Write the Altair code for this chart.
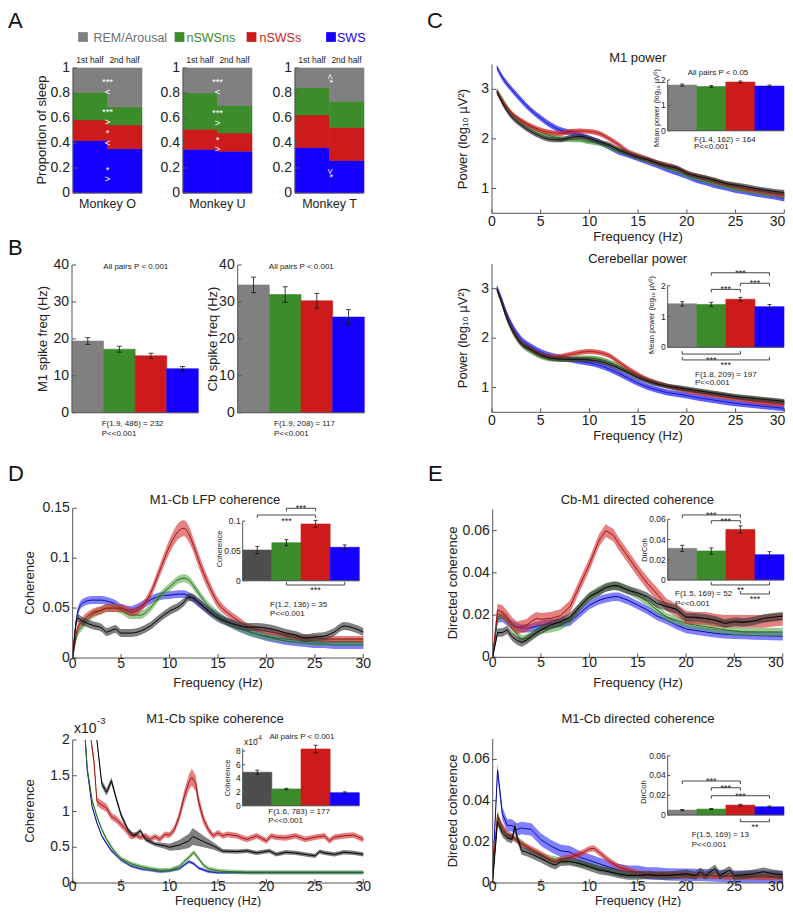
import altair as alt
import pandas as pd

OX, OY = 8, 8
FN = "Liberation Sans, Arial, sans-serif"
FW = "Liberation Sans, Arial, sans-serif"
INK = "#222222"
AXC = "#555555"
TICK_FS = 14
TITLE_FS = 13
AXT_FS = 13
SMALL_FS = 8

STATES = ["REM/Arousal", "nSWSns", "nSWSs", "SWS"]
BAR_COLORS = ["#808080", "#3C8C2C", "#CD1B1B", "#1500FF"]
BAR_COLORS_DARK = ["#4D4D4D", "#3C8C2C", "#CD1B1B", "#1500FF"]
LEGEND_TEXT_COLORS = ["#6E6E6E", "#3C8C2C", "#CD1B1B", "#1500FF"]
BAND = {"blue": "#2A2AFF", "green": "#4A9E3A", "red": "#D42C2C", "black": "#3A3A3A"}
LINE = {"blue": "#0A0A9A", "green": "#276A1A", "red": "#A01212", "black": "#000000"}

# ---------------- Panel A data (proportions: REM, nSWSns, nSWSs, SWS) ----------------
A_MONKEYS = ["Monkey O", "Monkey U", "Monkey T"]
A_FIRST = {"Monkey O": [0.195, 0.22, 0.165, 0.42],
           "Monkey U": [0.20, 0.29, 0.16, 0.35],
           "Monkey T": [0.155, 0.22, 0.26, 0.365]}
A_SECOND = {"Monkey O": [0.31, 0.145, 0.19, 0.355],
            "Monkey U": [0.30, 0.22, 0.145, 0.335],
            "Monkey T": [0.265, 0.21, 0.265, 0.26]}
A_ANN_TEXT = {"Monkey O": ["***\n<", "***\n>", "*\n<", "*\n>"],
              "Monkey U": ["***\n<", "***\n>", "*\n>"],
              "Monkey T": ["<*", ">*"]}
A_ANN_Y = {"Monkey O": [0.887, 0.648, 0.48, 0.186],
           "Monkey U": [0.887, 0.64, 0.425],
           "Monkey T": [0.915, 0.16]}
A_TICKS = [0, 0.2, 0.4, 0.6, 0.8, 1]
A_TICK_LABELS = ["0", "0.2", "0.4", "0.6", "0.8", "1"]

# ---------------- Panel B ----------------
B_M1 = [19.4, 17.2, 15.4, 11.9]
B_M1_ERR = [0.9, 0.8, 0.7, 0.6]
B_CB = [34.6, 32.0, 30.3, 25.9]
B_CB_ERR = [2.1, 2.1, 2.0, 2.0]
B_TICKS = [0, 10, 20, 30, 40]

# ---------------- Panel C ----------------
C_F = [0.5, 1, 1.5, 2, 3, 4, 5, 6, 7, 8, 9, 10, 11, 12, 13, 14, 15, 16, 17, 18, 19, 20,
       21, 22, 23, 24, 25, 26, 27, 28, 29, 30]
CT_BLUE = [3.45, 3.26, 3.12, 3.0, 2.78, 2.58, 2.42, 2.28, 2.18, 2.13, 2.08, 2.01, 1.94, 1.84, 1.74,
           1.68, 1.61, 1.54, 1.47, 1.39, 1.32, 1.25, 1.17, 1.12, 1.06, 1.02, 0.97, 0.94, 0.9, 0.87, 0.84, 0.8]
CT_GREEN = [2.98, 2.82, 2.66, 2.52, 2.35, 2.23, 2.13, 2.06, 2.01, 1.99, 1.98, 1.94, 1.91, 1.84, 1.76,
            1.7, 1.63, 1.56, 1.49, 1.43, 1.36, 1.27, 1.21, 1.15, 1.1, 1.05, 1.0, 0.97, 0.94, 0.9, 0.88, 0.85]
CT_RED = [2.95, 2.78, 2.64, 2.52, 2.37, 2.26, 2.18, 2.13, 2.11, 2.15, 2.16, 2.15, 2.11, 2.01, 1.88,
          1.74, 1.66, 1.59, 1.52, 1.47, 1.41, 1.32, 1.25, 1.2, 1.14, 1.09, 1.05, 1.0, 0.97, 0.94, 0.9, 0.87]
CT_BLACK = [2.95, 2.75, 2.58, 2.45, 2.28, 2.15, 2.05, 1.99, 1.98, 2.03, 2.05, 2.01, 1.94, 1.88, 1.78,
            1.7, 1.63, 1.58, 1.51, 1.45, 1.41, 1.31, 1.25, 1.21, 1.16, 1.1, 1.07, 1.04, 1.0, 0.97, 0.94, 0.92]
CB_BLUE = [3.02, 2.78, 2.5, 2.28, 1.98, 1.83, 1.72, 1.65, 1.6, 1.57, 1.53, 1.5, 1.45, 1.38, 1.29,
           1.19, 1.09, 1.01, 0.95, 0.9, 0.87, 0.84, 0.8, 0.77, 0.74, 0.71, 0.68, 0.66, 0.64, 0.62, 0.6, 0.58]
CB_GREEN = [2.98, 2.7, 2.4, 2.17, 1.87, 1.73, 1.63, 1.58, 1.57, 1.58, 1.6, 1.6, 1.58, 1.52, 1.43,
            1.33, 1.23, 1.15, 1.08, 1.03, 0.99, 0.95, 0.92, 0.89, 0.86, 0.83, 0.8, 0.78, 0.76, 0.74, 0.72, 0.7]
CB_RED = [3.0, 2.72, 2.43, 2.2, 1.9, 1.77, 1.67, 1.62, 1.63, 1.67, 1.71, 1.73, 1.71, 1.65, 1.52,
          1.38, 1.26, 1.16, 1.09, 1.03, 0.98, 0.94, 0.9, 0.87, 0.84, 0.81, 0.78, 0.75, 0.72, 0.7, 0.68, 0.66]
CB_BLACK = [3.0, 2.72, 2.42, 2.2, 1.9, 1.77, 1.66, 1.6, 1.58, 1.57, 1.57, 1.56, 1.53, 1.47, 1.39,
            1.3, 1.2, 1.13, 1.07, 1.03, 1.0, 0.97, 0.94, 0.91, 0.88, 0.85, 0.82, 0.8, 0.78, 0.76, 0.74, 0.72]
CT_INSET = [1.80, 1.74, 1.92, 1.76]
CT_INSET_ERR = [0.04, 0.04, 0.04, 0.04]
CB_INSET = [1.41, 1.39, 1.56, 1.32]
CB_INSET_ERR = [0.07, 0.07, 0.06, 0.07]
CB_BRACKETS = [(1, 3, 2.42, "***", "down", "above"), (1, 2, 1.88, "***", "down", "above"),
               (2, 3, 2.08, "***", "down", "above"), (0, 2, -0.22, "***", "up", "below"),
               (0, 3, -0.41, "***", "up", "below")]

# ---------------- Panel D ----------------
DT_F = [0, 0.5, 1, 2, 3, 3.5, 4.4, 5, 6, 7, 8, 9, 10, 11, 11.5, 12, 12.5, 13, 14, 15, 16, 17, 18,
        19, 20, 21, 22, 23, 24, 25, 26, 27, 28, 29, 30]
DT_RED = [0, 0.03, 0.037, 0.045, 0.048, 0.05, 0.05, 0.05, 0.046, 0.05, 0.064, 0.088, 0.112, 0.128, 0.13,
          0.124, 0.112, 0.098, 0.074, 0.055, 0.045, 0.038, 0.032, 0.029, 0.027, 0.025, 0.023, 0.021,
          0.02, 0.02, 0.019, 0.019, 0.019, 0.019, 0.019]
DT_RED_ERR = [0.002, 0.004, 0.004, 0.004, 0.004, 0.004, 0.004, 0.004, 0.004, 0.004, 0.005, 0.006, 0.007,
              0.008, 0.008, 0.008, 0.007, 0.007, 0.006, 0.005, 0.004, 0.004, 0.003, 0.003, 0.003, 0.003,
              0.003, 0.003, 0.003, 0.003, 0.003, 0.003, 0.003, 0.003, 0.003]
DT_GREEN = [0, 0.025, 0.032, 0.043, 0.048, 0.05, 0.05, 0.048, 0.043, 0.043, 0.05, 0.062, 0.071, 0.079, 0.08,
            0.078, 0.072, 0.065, 0.052, 0.043, 0.036, 0.031, 0.027, 0.024, 0.022, 0.02, 0.019, 0.018,
            0.017, 0.016, 0.016, 0.016, 0.016, 0.016, 0.016]
DT_BLUE = [0, 0.045, 0.055, 0.058, 0.058, 0.057, 0.054, 0.05, 0.048, 0.052, 0.058, 0.062, 0.063, 0.064, 0.064,
           0.062, 0.059, 0.055, 0.048, 0.042, 0.036, 0.031, 0.027, 0.024, 0.021, 0.019, 0.017, 0.016,
           0.015, 0.014, 0.014, 0.013, 0.013, 0.013, 0.013]
DT_BLACK = [0, 0.04, 0.037, 0.033, 0.03, 0.026, 0.029, 0.025, 0.025, 0.027, 0.032, 0.04, 0.047, 0.052, 0.056,
            0.061, 0.06, 0.056, 0.047, 0.04, 0.036, 0.033, 0.031, 0.031, 0.03, 0.028, 0.025, 0.023,
            0.02, 0.021, 0.022, 0.026, 0.032, 0.03, 0.026]
DT_INSET = [0.0514, 0.0637, 0.095, 0.0559]
DT_INSET_ERR = [0.006, 0.005, 0.006, 0.004]
DT_BRACKETS = [(1, 2, 0.1213, "***", "down", "above"), (0, 2, 0.110, "***", "down", "below"),
               (1, 3, -0.0072, "***", "up", "below")]

# spike coherence (x 1e-3)
DB_RED_F = [1.9, 2.2, 2.5, 3, 3.5, 4, 4.5, 5, 5.5, 6, 6.5, 7, 7.5, 8, 8.5, 9, 9.5, 10, 10.5, 11,
            11.5, 12, 12.3, 12.7, 13, 13.5, 14, 14.5, 15, 15.5, 16, 17, 17.5, 18, 19, 20, 20.5, 21, 22, 23,
            24, 25, 26, 26.5, 27, 28, 29, 30]
DB_RED = [2.0, 1.7, 1.14, 1.09, 1.05, 0.93, 0.89, 0.82, 0.75, 0.66, 0.67, 0.64, 0.66, 0.61, 0.65, 0.61,
          0.68, 0.67, 0.75, 0.93, 1.2, 1.41, 1.48, 1.39, 1.14, 0.89, 0.75, 0.66, 0.7, 0.66, 0.68, 0.66,
          0.63, 0.61, 0.66, 0.59, 0.66, 0.64, 0.63, 0.66, 0.61, 0.64, 0.66, 0.59, 0.64, 0.66, 0.67, 0.61]
DB_RED_ERR = [0.08, 0.08, 0.06, 0.06, 0.06, 0.05, 0.05, 0.05, 0.05, 0.05, 0.04, 0.04, 0.04, 0.04, 0.04,
              0.04, 0.04, 0.04, 0.05, 0.07, 0.09, 0.11, 0.12, 0.11, 0.09, 0.07, 0.05, 0.04, 0.04, 0.04,
              0.04, 0.04, 0.04, 0.04, 0.04, 0.04, 0.04, 0.04, 0.04, 0.04, 0.04, 0.04, 0.04, 0.04, 0.04,
              0.04, 0.04, 0.04]
DB_BLACK_F = [2.5, 3, 3.5, 4, 4.5, 5, 5.7, 6.3, 7, 7.5, 8.5, 9.5, 10, 11, 12, 12.4, 13.5, 14.5, 15.5, 17,
              18, 19, 20.3, 21, 22, 23, 24, 25, 25.5, 26, 27, 28, 29, 30]
DB_BLACK = [2.0, 1.39, 1.27, 1.43, 1.18, 0.95, 0.75, 0.66, 0.73, 0.61, 0.545, 0.52, 0.5, 0.53, 0.59, 0.65,
            0.58, 0.52, 0.445, 0.44, 0.45, 0.42, 0.45, 0.4, 0.43, 0.42, 0.4, 0.38, 0.44, 0.42, 0.4, 0.43,
            0.42, 0.4]
DB_BLACK_ERR = [0.05, 0.05, 0.05, 0.05, 0.04, 0.04, 0.03, 0.03, 0.03, 0.03, 0.03, 0.04, 0.05, 0.07, 0.1,
                0.12, 0.08, 0.05, 0.03, 0.03, 0.03, 0.03, 0.03, 0.03, 0.03, 0.03, 0.03, 0.03, 0.03, 0.03,
                0.03, 0.03, 0.03, 0.03]
DB_GREEN_F = [1.3, 1.5, 2, 2.5, 3, 3.5, 4, 4.5, 5, 6, 7, 8, 9, 10, 11, 11.5, 12, 12.5, 13, 13.5, 14, 15,
              16, 18, 20, 22, 24, 26, 28, 30]
DB_GREEN = [2.0, 1.6, 1.16, 0.93, 0.75, 0.61, 0.5, 0.41, 0.34, 0.27, 0.23, 0.2, 0.18, 0.18, 0.23, 0.3,
            0.36, 0.43, 0.34, 0.25, 0.2, 0.17, 0.16, 0.15, 0.15, 0.15, 0.15, 0.15, 0.15, 0.15]
DB_BLUE_F = [1.3, 1.5, 2, 2.5, 3, 3.5, 4, 5, 6, 7, 8, 9, 10, 11, 11.5, 12, 12.5, 13, 14, 15, 16, 18, 20,
             22, 24, 26, 28, 30]
DB_BLUE = [2.0, 1.58, 1.07, 0.84, 0.66, 0.55, 0.45, 0.32, 0.24, 0.2, 0.18, 0.16, 0.17, 0.2, 0.25, 0.3,
           0.27, 0.21, 0.16, 0.145, 0.145, 0.145, 0.145, 0.145, 0.145, 0.145, 0.145, 0.145]
DB_INSET = [4.9, 2.45, 8.3, 1.9]
DB_INSET_ERR = [0.3, 0.1, 0.55, 0.12]

# ---------------- Panel E ----------------
ET_F = [0, 0.5, 1, 1.5, 2, 2.5, 3, 3.5, 4, 4.5, 5, 6, 7, 8, 9, 10, 11, 11.7, 12.5, 13, 14, 15, 16, 17,
        18, 19, 20, 21, 22, 23, 24, 25, 26, 27, 28, 29, 30]
ET_RED = [0, 0.0224, 0.0216, 0.019, 0.016, 0.014, 0.0145, 0.015, 0.017, 0.0184, 0.018, 0.0184, 0.0197,
          0.024, 0.034, 0.044, 0.0554, 0.06, 0.0578, 0.054, 0.0476, 0.041, 0.035, 0.03, 0.0247, 0.0224,
          0.019, 0.0185, 0.0184, 0.0176, 0.017, 0.0172, 0.017, 0.017, 0.017, 0.0176, 0.018]
ET_BLACK = [0, 0.0117, 0.0117, 0.013, 0.0098, 0.008, 0.007, 0.0082, 0.0098, 0.0115, 0.013, 0.0153, 0.0168,
            0.019, 0.024, 0.0287, 0.031, 0.033, 0.034, 0.0338, 0.0318, 0.0305, 0.0287, 0.0255, 0.024,
            0.0228, 0.019, 0.019, 0.0184, 0.0176, 0.016, 0.0168, 0.0165, 0.0172, 0.0184, 0.019, 0.0195]
ET_GREEN = [0, 0.019, 0.02, 0.018, 0.0137, 0.011, 0.0085, 0.009, 0.0105, 0.012, 0.013, 0.0137, 0.0148,
            0.0176, 0.024, 0.0287, 0.0318, 0.0332, 0.0337, 0.0335, 0.032, 0.0294, 0.0263, 0.0224, 0.019,
            0.0176, 0.016, 0.0152, 0.0145, 0.0138, 0.013, 0.0125, 0.012, 0.012, 0.012, 0.012, 0.012]
ET_BLUE = [0, 0.0184, 0.0187, 0.017, 0.0153, 0.0143, 0.0137, 0.0138, 0.014, 0.0147, 0.0153, 0.016, 0.0163,
           0.0168, 0.0208, 0.0247, 0.027, 0.028, 0.0287, 0.0287, 0.027, 0.0247, 0.0224, 0.0195, 0.0176,
           0.0153, 0.0134, 0.0127, 0.012, 0.0114, 0.0109, 0.0107, 0.0105, 0.0103, 0.0102, 0.0101, 0.01]
ET_INSET = [0.0313, 0.0287, 0.050, 0.025]
ET_INSET_ERR = [0.003, 0.003, 0.0035, 0.003]
ET_BRACKETS = [(0, 2, 0.0643, "***", "down", "above"), (1, 2, 0.0586, "***", "down", "above"),
               (1, 3, -0.0049, "**", "up", "below"), (2, 3, -0.0138, "***", "up", "below")]

EB_BLUE_F = [0, 0.5, 1, 1.5, 2, 2.5, 3, 4, 5, 6, 7, 8, 9, 10, 11, 12, 13, 14, 15, 16, 17, 18, 20, 22, 25,
             28, 30]
EB_BLUE = [0.005, 0.0549, 0.0337, 0.028, 0.028, 0.026, 0.0267, 0.026, 0.021, 0.018, 0.0157, 0.015, 0.0125,
           0.011, 0.0094, 0.0078, 0.0063, 0.0055, 0.0055, 0.0047, 0.0047, 0.0042, 0.004, 0.0038, 0.0031,
           0.0031, 0.0027]
EB_RED_F = [0, 0.5, 1, 1.5, 2, 3, 4, 5, 6, 6.5, 7, 8, 9, 10, 10.5, 11, 12, 13, 14, 15, 16, 18, 20, 22, 25, 30]
EB_RED = [0.0055, 0.032, 0.0275, 0.024, 0.0227, 0.0188, 0.0165, 0.014, 0.011, 0.0102, 0.0115, 0.0125,
          0.014, 0.0165, 0.0168, 0.0149, 0.011, 0.0078, 0.0063, 0.0047, 0.004, 0.0042, 0.0036, 0.0036,
          0.0031, 0.0028]
EB_GREEN_F = [0, 0.5, 1, 1.5, 2, 3, 4, 5, 6, 7, 8, 9, 10, 11, 12, 13, 14, 15, 20, 30]
EB_GREEN = [0.002, 0.0337, 0.026, 0.0227, 0.022, 0.0196, 0.0157, 0.0133, 0.0118, 0.011, 0.0105, 0.0094,
            0.0086, 0.0071, 0.0058, 0.0047, 0.0042, 0.004, 0.0036, 0.0031]
EB_BLACK_F = [0, 0.5, 1, 1.5, 2, 2.3, 2.5, 3, 3.5, 4, 5, 6, 6.5, 7, 8, 9, 10, 11, 12, 13, 14, 15, 16, 17,
              18, 19, 20, 21, 21.5, 22, 23, 23.5, 24.5, 25, 26, 27, 28, 29, 30]
EB_BLACK = [0.0008, 0.0298, 0.0243, 0.022, 0.0212, 0.0275, 0.0227, 0.0157, 0.015, 0.014, 0.0118, 0.0094,
            0.0086, 0.0102, 0.0105, 0.0094, 0.0078, 0.0063, 0.0055, 0.0044, 0.0036, 0.0036, 0.004, 0.0036,
            0.0036, 0.004, 0.0045, 0.0036, 0.0055, 0.0036, 0.007, 0.0036, 0.0063, 0.0036, 0.004, 0.0045,
            0.0055, 0.0045, 0.004]
EB_INSET = [0.005, 0.006, 0.010, 0.0083]
EB_INSET_ERR = [0.0006, 0.0006, 0.0008, 0.0008]
EB_BRACKETS = [(0, 2, 0.0344, "***", "down", "above"), (1, 2, 0.0276, "***", "down", "above"),
               (1, 3, 0.0195, "***", "down", "above"), (2, 3, -0.0068, "**", "up", "below")]

FREQ_TICKS = [0, 5, 10, 15, 20, 25, 30]

layers = []


def add(c):
    layers.append(c)


class Panel:
    def __init__(self, left, right, top, bottom, xdom, ydom, clamp=False):
        self.l, self.r, self.t, self.b = left, right, top, bottom
        self.xdom, self.ydom = list(xdom), list(ydom)
        self.clamp = clamp
        self.xpp = (xdom[1] - xdom[0]) / (right - left)
        self.ypp = (ydom[1] - ydom[0]) / (bottom - top)

    def X(self, f):
        return alt.X(f, type="quantitative", axis=None,
                     scale=alt.Scale(domain=self.xdom, range=[self.l - OX, self.r - OX],
                                     nice=False, zero=False, clamp=self.clamp))

    def Y(self, f):
        return alt.Y(f, type="quantitative", axis=None,
                     scale=alt.Scale(domain=self.ydom, range=[self.b - OY, self.t - OY],
                                     nice=False, zero=False, clamp=self.clamp))


def txt(s, x, y, size=13, align="center", baseline="middle", angle=0, color=INK, font=FN):
    add(alt.Chart(alt.Data(values=[{"a": 1}])).mark_text(
        text=s, x=x - OX, y=y - OY, fontSize=size, align=align, baseline=baseline,
        angle=angle, color=color, font=font))


def axes(P, yt, ylab, xt=None, xlab=None, tick=4, fs=TICK_FS, xdy=7, ydx=-3, bottom=True,
         last_right=False):
    x0, x1 = P.xdom
    y0, y1 = P.ydom
    rows = [dict(x=x0, x2=x0, y=y0, y2=y1)]
    if bottom:
        rows.append(dict(x=x0, x2=x1, y=y0, y2=y0))
    for t in yt:
        rows.append(dict(x=x0, x2=x0 + tick * P.xpp, y=t, y2=t))
    for t in (xt or []):
        rows.append(dict(x=t, x2=t, y=y0, y2=y0 + tick * P.ypp))
    add(alt.Chart(pd.DataFrame(rows)).mark_rule(color=AXC, strokeWidth=1).encode(
        x=P.X("x"), x2="x2", y=P.Y("y"), y2="y2"))
    ydf = pd.DataFrame({"t": yt, "s": ylab, "x": [x0] * len(yt)})
    add(alt.Chart(ydf).mark_text(align="right", baseline="middle", dx=ydx, fontSize=fs, font=FN,
                                 color=INK).encode(x=P.X("x"), y=P.Y("t"), text="s:N"))
    if xt:
        xdf = pd.DataFrame({"t": xt, "s": xlab, "y": [y0] * len(xt)})
        main = xdf.iloc[:-1] if last_right else xdf
        add(alt.Chart(main).mark_text(align="center", baseline="middle", dy=xdy, fontSize=fs, font=FN,
                                      color=INK).encode(x=P.X("t"), y=P.Y("y"), text="s:N"))
        if last_right:
            add(alt.Chart(xdf.iloc[-1:]).mark_text(align="right", baseline="middle", dy=xdy, dx=1,
                                                   fontSize=fs, font=FN, color=INK).encode(
                x=P.X("t"), y=P.Y("y"), text="s:N"))


def series(P, f, v, err, key, interp="linear", op=0.6, lw=1.0):
    e = err if isinstance(err, list) else [err] * len(v)
    df = pd.DataFrame({"f": f, "v": v, "e": e})
    df["lo"] = df.v - df.e
    df["hi"] = df.v + df.e
    add(alt.Chart(df).mark_area(color=BAND[key], opacity=op, interpolate=interp).encode(
        x=P.X("f"), y=P.Y("lo"), y2="hi"))
    add(alt.Chart(df).mark_line(color=LINE[key], strokeWidth=lw, interpolate=interp).encode(
        x=P.X("f"), y=P.Y("v")))


def state_color(colors):
    return alt.Color("s:N", scale=alt.Scale(domain=STATES, range=colors), legend=None)


def state_stroke(colors):
    return alt.Stroke("s:N", scale=alt.Scale(domain=STATES, range=colors), legend=None)


def bars(P, vals, errs, colors, cap=2.0, ew=0.8):
    n = len(vals)
    df = pd.DataFrame({"s": STATES, "i": list(range(n)), "v": vals, "e": errs})
    df["i2"] = df.i + 1
    df["m"] = df.i + 0.5
    df["z"] = 0.0
    df["lo"] = df.v - df.e
    df["hi"] = df.v + df.e
    add(alt.Chart(df).mark_rect(strokeWidth=0.6).encode(
        x=P.X("i"), x2="i2", y=P.Y("z"), y2="v",
        color=state_color(colors), stroke=state_stroke(colors)))
    add(alt.Chart(df).mark_rule(color="#111111", strokeWidth=ew).encode(
        x=P.X("m"), y=P.Y("lo"), y2="hi"))
    caps = []
    for _, r in df.iterrows():
        for yy in (r.lo, r.hi):
            caps.append(dict(x=r.m - cap * P.xpp, x2=r.m + cap * P.xpp, y=yy))
    add(alt.Chart(pd.DataFrame(caps)).mark_rule(color="#111111", strokeWidth=ew).encode(
        x=P.X("x"), x2="x2", y=P.Y("y")))


def brackets(P, specs, end_px=3, fs=9):
    rows, above, below = [], [], []
    for a, b, lev, lab, ends, pos in specs:
        xa, xb = a + 0.5, b + 0.5
        d = -end_px * P.ypp if ends == "down" else end_px * P.ypp
        rows += [dict(x=xa, x2=xb, y=lev, y2=lev), dict(x=xa, x2=xa, y=lev, y2=lev + d),
                 dict(x=xb, x2=xb, y=lev, y2=lev + d)]
        (above if pos == "above" else below).append(dict(x=(xa + xb) / 2, y=lev, t=lab))
    add(alt.Chart(pd.DataFrame(rows)).mark_rule(color="#333333", strokeWidth=0.9).encode(
        x=P.X("x"), x2="x2", y=P.Y("y"), y2="y2"))
    for lst, dy in ((above, 3), (below, 8.5)):
        if lst:
            add(alt.Chart(pd.DataFrame(lst)).mark_text(baseline="alphabetic", dy=dy, fontSize=fs,
                                                       font=FW, color="#222222").encode(
                x=P.X("x"), y=P.Y("y"), text="t:N"))


def inset(P, vals, errs, colors, yt, ylab):
    bars(P, vals, errs, colors)
    axes(P, yt, ylab, tick=2.5, fs=8.5, ydx=-2)


# ================= Panel A =================
txt("A", 0 + OX, 21, size=22, align="left", font=FW, color="#111")
LEG_SQ_X = [83, 179.5, 251.5, 331]
LEG_TX_X = [93.5, 186.5, 259.5, 337]
for s, c, tc, sx, tx in zip(STATES, BAR_COLORS, LEGEND_TEXT_COLORS, LEG_SQ_X, LEG_TX_X):
    add(alt.Chart(alt.Data(values=[{"a": 1}])).mark_square(
        x=sx - OX, y=37 - OY, size=95, color=c, opacity=1))
    txt(s, tx, 37.5, size=12.5, align="left", color=tc)

A_BOX = [(73, 142), (183, 252), (295, 364)]
for m, (l, r) in zip(A_MONKEYS, A_BOX):
    P = Panel(l, r, 68, 193, [0, 2], [0, 1])
    rows = []
    for h, props in enumerate([A_FIRST[m], A_SECOND[m]]):
        cum = 0.0
        for s, p in reversed(list(zip(STATES, props))):
            rows.append(dict(h=h, h2=h + 1, s=s, lo=cum, hi=cum + p))
            cum += p
    add(alt.Chart(pd.DataFrame(rows)).mark_rect(strokeWidth=0.6).encode(
        x=P.X("h"), x2="h2", y=P.Y("lo"), y2="hi",
        color=state_color(BAR_COLORS), stroke=state_stroke(BAR_COLORS)))
    ann = pd.DataFrame({"t": A_ANN_TEXT[m], "y": A_ANN_Y[m], "x": [1.0] * len(A_ANN_Y[m])})
    add(alt.Chart(ann).mark_text(color="white", fontSize=9.5, font=FW, lineBreak="\n", lineHeight=9.5,
                                 angle=90 if m == "Monkey T" else 0).encode(
        x=P.X("x"), y=P.Y("y"), text="t:N"))
    axes(P, A_TICKS, A_TICK_LABELS, ydx=-3)
    txt("1st half", l + 17, 60, size=8.5)
    txt("2nd half", l + 51.5, 60, size=8.5)
    txt(m, (l + r) / 2, 203.5, size=12.5)
txt("Proportion of sleep", 42, 130, size=AXT_FS, angle=270)

# ================= Panel B =================
txt("B", 0 + OX, 248, size=22, align="left", font=FW, color="#111")
BL = Panel(72, 198.3, 265, 412.7, [0, 4], [0, 40])
BR = Panel(237.7, 364.3, 265, 412.7, [0, 4], [0, 40])
for P, vals, errs in ((BL, B_M1, B_M1_ERR), (BR, B_CB, B_CB_ERR)):
    bars(P, vals, errs, BAR_COLORS, cap=2.5)
    axes(P, B_TICKS, [str(t) for t in B_TICKS])
txt("M1 spike freq (Hz)", 43, 339, size=AXT_FS, angle=270)
txt("Cb spike freq (Hz)", 213, 339, size=AXT_FS, angle=270)
txt("All pairs P < 0.001", 135.8, 267, size=SMALL_FS)
txt("All pairs P < 0.001", 301.3, 267, size=SMALL_FS)
txt("F(1.9, 486) = 232", 101.7, 423.5, size=SMALL_FS, align="left")
txt("P<<0.001", 101.7, 433.5, size=SMALL_FS, align="left")
txt("F(1.9, 208) = 117", 274, 423.5, size=SMALL_FS, align="left")
txt("P<<0.001", 274, 433.5, size=SMALL_FS, align="left")

# ================= Panel C =================
txt("C", 427, 21, size=22, align="left", font=FW, color="#111")
CT = Panel(492, 784.3, 64.5, 213.3, [0, 30], [0.5, 3.5], clamp=True)
CB = Panel(492, 784.3, 264, 412.3, [0, 30], [0.5, 3.5], clamp=True)
for P, data in ((CT, [CT_BLUE, CT_GREEN, CT_RED, CT_BLACK]), (CB, [CB_BLUE, CB_GREEN, CB_RED, CB_BLACK])):
    for key, v in zip(["blue", "green", "red", "black"], data):
        series(P, C_F, v, 0.06 if key == "blue" else 0.05, key, interp="monotone", op=0.75, lw=0.8)
    axes(P, [1, 2, 3], ["1", "2", "3"], FREQ_TICKS, [str(t) for t in FREQ_TICKS], xdy=8.5,
         last_right=True)
txt("M1 power", 637.7, 58, size=TITLE_FS)
txt("Cerebellar power", 637.7, 258.5, size=TITLE_FS)
txt("Power (log\u2081\u2080 \u00b5V\u00b2)", 463, 139, size=AXT_FS, angle=270)
txt("Power (log\u2081\u2080 \u00b5V\u00b2)", 463, 338, size=AXT_FS, angle=270)
txt("Frequency (Hz)", 638, 237, size=AXT_FS)
txt("Frequency (Hz)", 638, 435.5, size=AXT_FS)
CTI = Panel(667.7, 784, 80, 130.7, [0, 4], [0, 2])
inset(CTI, CT_INSET, CT_INSET_ERR, BAR_COLORS, [0, 1, 2], ["0", "1", "2"])
CBI = Panel(667.7, 784, 285.7, 347.3, [0, 4], [0, 2])
inset(CBI, CB_INSET, CB_INSET_ERR, BAR_COLORS, [0, 1, 2], ["0", "1", "2"])
brackets(CBI, CB_BRACKETS)
txt("All pairs P < 0.05", 718, 72.7, size=SMALL_FS)
txt("F(1.4, 162) = 164", 694, 139.5, size=SMALL_FS, align="left")
txt("P<<0.001", 694, 147, size=SMALL_FS, align="left")
txt("F(1.8, 209) = 197", 695, 374.5, size=SMALL_FS, align="left")
txt("P<<0.001", 695, 383, size=SMALL_FS, align="left")
txt("Mean power (log\u2081\u2080 \u00b5V\u00b2)", 657, 108, size=7.5, angle=270)
txt("Mean power (log\u2081\u2080 \u00b5V\u00b2)", 652, 315, size=7.5, angle=270)

# ================= Panel D =================
txt("D", 0 + OX, 474, size=22, align="left", font=FW, color="#111")
DT = Panel(72.7, 363.3, 508.3, 658, [0, 30], [0, 0.15], clamp=True)
series(DT, DT_F, DT_BLUE, 0.004, "blue", interp="monotone", op=0.6)
series(DT, DT_F, DT_GREEN, 0.004, "green", interp="monotone", op=0.55)
series(DT, DT_F, DT_RED, DT_RED_ERR, "red", interp="monotone", op=0.6)
series(DT, DT_F, DT_BLACK, 0.004, "black", interp="monotone", op=0.65)
axes(DT, [0, 0.05, 0.1, 0.15], ["0", "0.05", "0.1", "0.15"], FREQ_TICKS, [str(t) for t in FREQ_TICKS],
     xdy=5.5)
txt("M1-Cb LFP coherence", 215, 499.5, size=TITLE_FS)
txt("Coherence", 30, 583, size=AXT_FS, angle=270)
txt("Frequency (Hz)", 218, 683, size=AXT_FS)
DTI = Panel(242.7, 359.3, 521, 580.7, [0, 4], [0, 0.1])
inset(DTI, DT_INSET, DT_INSET_ERR, BAR_COLORS_DARK, [0, 0.05, 0.1], ["0", "0.05", "0.1"])
brackets(DTI, DT_BRACKETS)
txt("Coherence", 220, 549, size=7.5, angle=270)
txt("F(1.2, 136) = 35", 270, 605, size=SMALL_FS, align="left")
txt("P<<0.001", 270, 613.5, size=SMALL_FS, align="left")

BOT = 883
DB = Panel(72.7, 363.3, 740, BOT, [0, 30], [0, 2], clamp=True)
series(DB, DB_BLUE_F, DB_BLUE, 0.02, "blue", op=0.6)
series(DB, DB_GREEN_F, DB_GREEN, 0.03, "green", op=0.55)
series(DB, DB_RED_F, DB_RED, DB_RED_ERR, "red", op=0.6)
series(DB, DB_BLACK_F, DB_BLACK, DB_BLACK_ERR, "black", op=0.65)
axes(DB, [0, 0.5, 1, 1.5, 2], ["0", "0.5", "1", "1.5", "2"], FREQ_TICKS, [str(t) for t in FREQ_TICKS],
     xdy=4)
txt("M1-Cb spike coherence", 215, 718.5, size=TITLE_FS)
txt("x10", 74, 729, size=TICK_FS, align="left")
txt("-3", 97, 721, size=9.5, align="left")
txt("Coherence", 30, 811, size=AXT_FS, angle=270)
txt("Frequency (Hz)", 218, 900.5, size=12.5)
DBI = Panel(242.7, 359.3, 748.3, 805.7, [0, 4], [0, 8.4])
inset(DBI, DB_INSET, DB_INSET_ERR, BAR_COLORS_DARK, [0, 2, 4, 6, 8], ["0", "2", "4", "6", "8"])
txt("Coherence", 228, 778, size=7.5, angle=270)
txt("x10", 244, 742, size=8.5, align="left")
txt("-4", 256, 737.5, size=6.5, align="left")
txt("All pairs P < 0.001", 302, 737, size=SMALL_FS)
txt("F(1.6, 783) = 177", 268.3, 812, size=SMALL_FS, align="left")
txt("P<<0.001", 268.3, 821, size=SMALL_FS, align="left")

# ================= Panel E =================
txt("E", 428, 474, size=22, align="left", font=FW, color="#111")
ET = Panel(492.7, 782.7, 509.5, 657.3, [0, 30], [0, 0.07], clamp=True)
series(ET, ET_F, ET_BLUE, 0.002, "blue", op=0.6)
series(ET, ET_F, ET_GREEN, 0.002, "green", op=0.55)
series(ET, ET_F, ET_RED, 0.003, "red", op=0.6)
series(ET, ET_F, ET_BLACK, 0.002, "black", op=0.65)
axes(ET, [0, 0.02, 0.04, 0.06], ["0", "0.02", "0.04", "0.06"], FREQ_TICKS,
     [str(t) for t in FREQ_TICKS], xdy=6, last_right=True)
txt("Cb-M1 directed coherence", 637.3, 500, size=TITLE_FS)
txt("Directed coherence", 453, 583, size=AXT_FS, angle=270)
txt("Frequency (Hz)", 638, 683, size=AXT_FS)
ETI = Panel(667.7, 784, 519.3, 580, [0, 4], [0, 0.06])
inset(ETI, ET_INSET, ET_INSET_ERR, BAR_COLORS, [0, 0.02, 0.04, 0.06], ["0", "0.02", "0.04", "0.06"])
brackets(ETI, ET_BRACKETS)
txt("DirCoh", 645, 550, size=7.5, angle=270)
txt("F(1.5, 169) = 52", 675, 594, size=SMALL_FS, align="left")
txt("P<<0.001", 675, 603.5, size=SMALL_FS, align="left")

EB = Panel(492.7, 782.7, 738.9, BOT, [0, 30], [0, 0.07], clamp=True)
series(EB, EB_BLUE_F, EB_BLUE, 0.003, "blue", op=0.6)
series(EB, EB_GREEN_F, EB_GREEN, 0.0015, "green", op=0.55)
series(EB, EB_RED_F, EB_RED, 0.0015, "red", op=0.6)
series(EB, EB_BLACK_F, EB_BLACK, 0.002, "black", op=0.65)
axes(EB, [0, 0.02, 0.04, 0.06], ["0", "0.02", "0.04", "0.06"], FREQ_TICKS,
     [str(t) for t in FREQ_TICKS], xdy=4, last_right=True)
txt("M1-Cb directed coherence", 638, 718.5, size=TITLE_FS)
txt("Directed coherence", 453, 811, size=AXT_FS, angle=270)
txt("Frequency (Hz)", 638, 900.5, size=12.5)
EBI = Panel(667.7, 784, 755.7, 815, [0, 4], [0, 0.06])
inset(EBI, EB_INSET, EB_INSET_ERR, BAR_COLORS, [0, 0.02, 0.04, 0.06], ["0", "0.02", "0.04", "0.06"])
brackets(EBI, EB_BRACKETS)
txt("DirCoh", 643.5, 792, size=7.5, angle=270)
txt("F(1.5, 169) = 13", 691.7, 835, size=SMALL_FS, align="left")
txt("P<<0.001", 691.7, 844.5, size=SMALL_FS, align="left")

chart = alt.layer(*layers).resolve_scale(
    x="independent", y="independent", color="independent", stroke="independent"
).properties(
    width=777, height=899, padding=0,
    autosize=alt.AutoSizeParams(type="none", contains="padding"),
).configure_view(stroke=None)

chart.save("out.html", embed_options={"renderer": "svg", "actions": False})
